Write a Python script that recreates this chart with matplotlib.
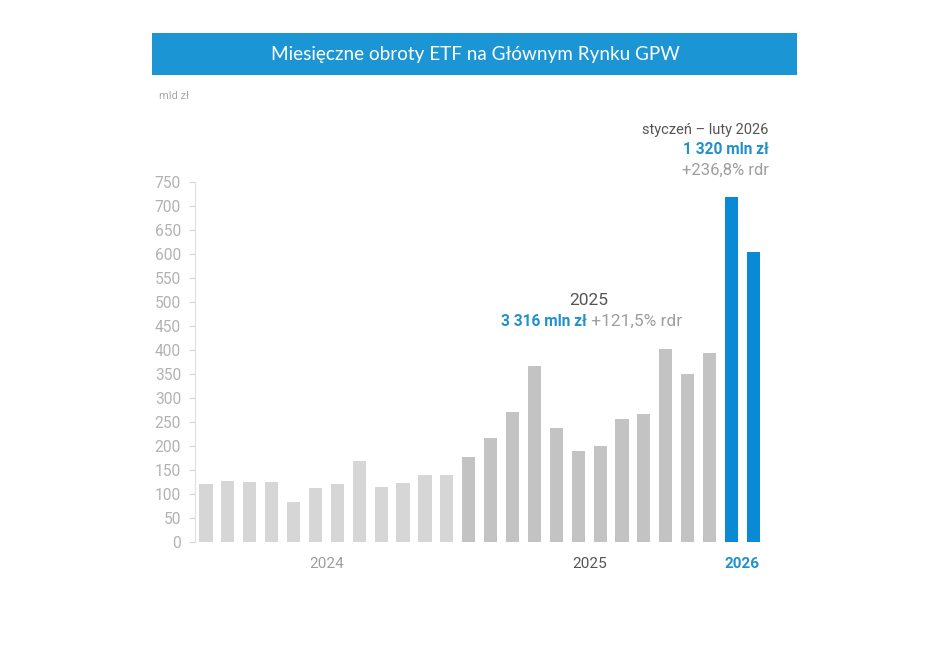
import matplotlib.pyplot as plt
from matplotlib.patches import Rectangle

# monthly ETF turnover, mln zl
values_2024 = [120, 127, 125, 125, 83, 112, 120, 168, 114, 123, 140, 140]
values_2025 = [177, 216, 270, 367, 238, 190, 200, 255, 267, 402, 350, 393]
values_2026 = [718, 604]
year_labels = ["2024", "2025", "2026"]
y_ticks = list(range(0, 751, 50))

title = "Miesięczne obroty ETF na Głównym Rynku GPW"
unit_label = "mld zł"
note_2025 = ("2025", "3 316 mln zł", "+121,5% rdr")
note_2026 = ("styczeń – luty 2026", "1 320 mln zł", "+236,8% rdr")

BLUE = "#0a8ad4"
BLUE_TXT = "#2290cc"
GREY_2024 = "#d6d6d6"
GREY_2025 = "#c3c3c3"
DARK = "#555555"
MID = "#9e9e9e"

plt.rcParams["font.family"] = ["Roboto", "DejaVu Sans"]

fig = plt.figure(figsize=(9.48, 6.54), dpi=100)
ax = fig.add_axes([0.2057, 0.1713, 0.6006, 0.5509])

groups = [values_2024, values_2025, values_2026]
colors = [GREY_2024, GREY_2025, BLUE]
start = 0
centers = []
for vals, col in zip(groups, colors):
    xs = list(range(start, start + len(vals)))
    ax.bar(xs, vals, width=0.6, color=col, zorder=2)
    centers.append(sum(xs) / len(xs))
    start += len(vals)

ax.set_xlim(-0.5, start - 0.5)
ax.set_ylim(0, 750)
ax.set_yticks(y_ticks)
ax.set_xticks([])
ax.tick_params(axis="y", colors="#d4d4d4", labelcolor="#b2b2b2", labelsize=11.2,
               length=4, width=0.8, pad=6)
for s in ["top", "right", "bottom"]:
    ax.spines[s].set_visible(False)
ax.spines["left"].set_color("#e0e0e0")
ax.spines["left"].set_linewidth(0.8)

# year labels under the bars
trans = ax.get_xaxis_transform()
ax.text(centers[0], -0.062, year_labels[0], transform=trans, ha="center", va="center",
        fontsize=11, color=MID)
ax.text(centers[1], -0.062, year_labels[1], transform=trans, ha="center", va="center",
        fontsize=11, color=DARK)
ax.text(centers[2], -0.062, year_labels[2], transform=trans, ha="center", va="center",
        fontsize=11, color=BLUE_TXT, fontweight="bold")

# 2025 note
ax.text(17.5, 503, note_2025[0], ha="center", va="center", fontsize=12.5, color=DARK)
blue25 = ax.text(17.38, 459, note_2025[1], ha="right", va="center", fontsize=11.2,
                 color=BLUE_TXT, fontweight="bold")
ax.annotate(" " + note_2025[2], xy=(1, 0.5), xycoords=blue25, ha="left", va="center",
            fontsize=12.5, color=MID)

# 2026 note
for txt, yv, kw in [(note_2026[0], 858, dict(color=DARK, fontsize=10.5)),
                    (note_2026[1], 816, dict(color=BLUE_TXT, fontweight="bold", fontsize=11.2)),
                    (note_2026[2], 773, dict(color=MID, fontsize=12))]:
    ax.text(25.7, yv, txt, ha="right", va="center", clip_on=False, **kw)

# title banner
fig.patches.append(Rectangle((0.1603, 0.8853), 0.6804, 0.0642, transform=fig.transFigure,
                             facecolor="#1b95d3", edgecolor="none"))
fig.text(0.501, 0.9174, title, ha="center", va="center", fontsize=13.6, color="white",
         family=["Lato", "DejaVu Sans"])
fig.text(0.168, 0.853, unit_label, ha="left", va="center", fontsize=8, color="#a8a8a8")

fig.savefig("out.png", dpi=100, facecolor="white")
